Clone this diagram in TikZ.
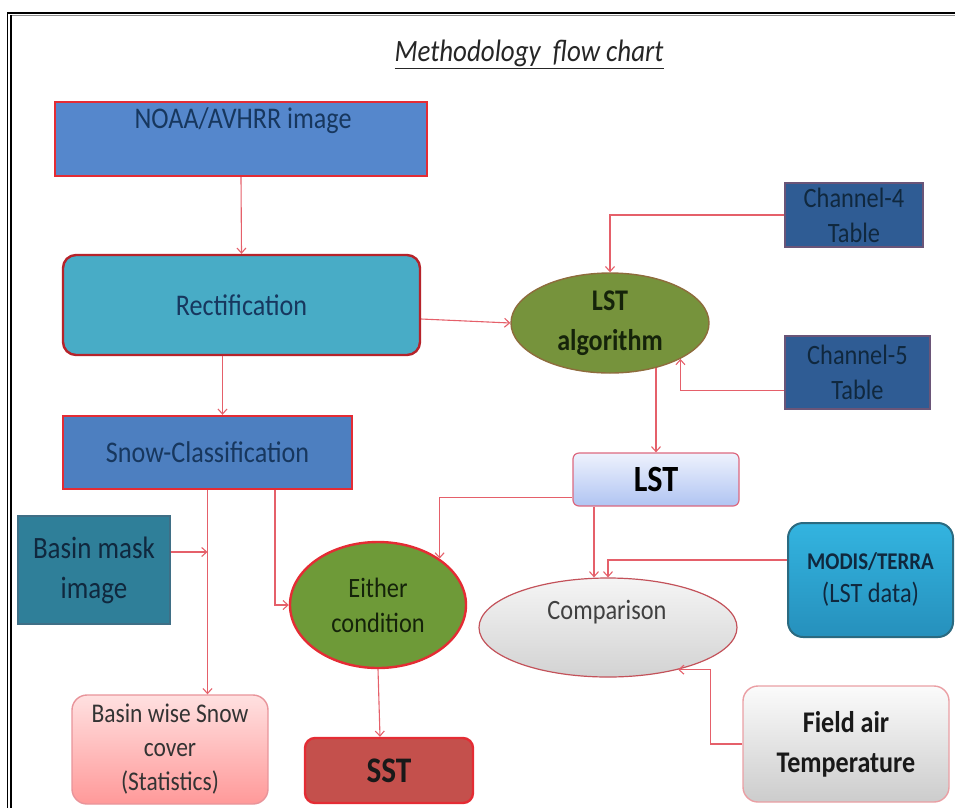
\documentclass[tikz,border=0pt]{standalone}
\usepackage{fontspec}
\setmainfont{Carlito}[FakeStretch=0.87]
\usetikzlibrary{arrows.meta,shapes.geometric,calc}
\newcommand\myfs[2]{\fontsize{#1}{#2}\selectfont}
\definecolor{arrc}{HTML}{E5606A}
\definecolor{navy}{HTML}{17375E}
\definecolor{noaac}{HTML}{5587CC}
\definecolor{snowc}{HTML}{4D7FC0}
\definecolor{rectc}{HTML}{48ACC6}
\definecolor{chc}{HTML}{2F5C94}
\definecolor{chb}{HTML}{6A5578}
\definecolor{olive}{HTML}{76933C}
\definecolor{oliveb}{HTML}{8E6C3C}
\definecolor{eithc}{HTML}{6E9A38}
\definecolor{maskc}{HTML}{2F7F99}
\definecolor{maskb}{HTML}{3F6F86}
\definecolor{redb}{HTML}{E42C34}
\definecolor{sstc}{HTML}{C4504C}
\definecolor{pinkb}{HTML}{E8949A}
\definecolor{modtop}{HTML}{33B4E0}
\definecolor{modbot}{HTML}{2690BC}
\definecolor{modb}{HTML}{2B6A80}
\definecolor{lsttop}{HTML}{EEF2FD}
\definecolor{lstbot}{HTML}{B0C4F2}
\definecolor{darkt}{HTML}{10283E}
\definecolor{greent}{HTML}{15230A}
\begin{document}
\begin{tikzpicture}[x=1pt,y=-1pt,
  arr/.style={draw=arrc, line width=1.1pt, -{Straight Barb[length=5pt,width=9pt]}},
  sqbox/.style={rectangle, inner sep=0pt},
  rbox/.style={rectangle, rounded corners=#1, inner sep=0pt},
  ell/.style={ellipse, inner sep=0pt},
  txt/.style={inner sep=0pt, align=center}]
\useasboundingbox (0,0) rectangle (955,807);
% frame
\draw[black, line width=2.6pt] (7,13) -- (960,13);
\draw[black!45, line width=1.2pt] (11,15.8) -- (960,15.8);
\draw[black, line width=1.3pt] (7.5,12) -- (7.5,810);
\draw[black, line width=1.3pt] (11,15) -- (11,810);
% title
\node[txt, font=\myfs{31}{33}\itshape, text=black!85] (title) at (529,54) {\underline{Methodology\ \ flow chart}};
% NOAA
\node[sqbox, fill=noaac, draw=redb, line width=2.4pt, minimum width=372pt, minimum height=74pt] (noaa) at (241,139) {};
\node[txt, font=\myfs{30}{32}, text=navy] (noaat) at (243,121) {NOAA/AVHRR image};
% Rectification
\node[rbox=13pt, fill=rectc, draw=redb!80!black, line width=2.4pt, minimum width=357pt, minimum height=100pt, font=\myfs{30}{32}, text=navy] (rect) at (241.5,305) {Rectification};
% Snow classification
\node[sqbox, fill=snowc, draw=redb, line width=2.4pt, minimum width=289pt, minimum height=73pt, font=\myfs{30}{32}, text=navy] (snow) at (207.5,452.5) {Snow-Classification};
% Channel tables
\node[sqbox, fill=chc, draw=chb, line width=1.4pt, minimum width=138pt, minimum height=64pt, font=\myfs{28}{35}, text=darkt, align=center] (ch4) at (854,215) {Channel-4\\Table};
\node[sqbox, fill=chc, draw=chb, line width=1.4pt, minimum width=145pt, minimum height=73pt, font=\myfs{28}{35}, text=darkt, align=center] (ch5) at (857.5,372.5) {Channel-5\\Table};
% LST algorithm
\node[ell, fill=olive, draw=oliveb, line width=1.4pt, minimum width=198pt, minimum height=100pt, font=\myfs{30}{40}\bfseries, text=greent, align=center] (lstalg) at (610,323) {LST\\algorithm};
% LST box
\node[rbox=6pt, top color=lsttop, bottom color=lstbot, draw=pinkb!70!purple, line width=1.2pt, minimum width=166pt, minimum height=53pt, font=\myfs{37}{38}\bfseries, text=black] (lst) at (656,479.5) {LST};
% Basin mask
\node[sqbox, fill=maskc, draw=maskb, line width=1.2pt, minimum width=152pt, minimum height=108pt, font=\myfs{31}{40}, text=darkt, align=center] (bmask) at (94,570) {Basin mask\\image};
% Either condition
\node[ell, fill=eithc, draw=redb, line width=2.4pt, minimum width=176pt, minimum height=126pt, font=\myfs{28}{35}, text=greent, align=center] (either) at (378,605) {Either\\condition};
% Basin wise
\node[rbox=15pt, top color=red!12!white, bottom color=red!40!white, draw=pinkb, line width=1.4pt, minimum width=196pt, minimum height=109pt, font=\myfs{27}{34}, text=black!80, align=center] (bws) at (170,749.5) {Basin wise Snow\\cover\\(Statistics)};
% SST
\node[rbox=10pt, fill=sstc, draw=redb, line width=2.4pt, minimum width=168pt, minimum height=65pt, font=\myfs{36}{38}\bfseries, text=black!90] (sst) at (389,770.5) {SST};
% Comparison
\node[ell, top color=gray!8, bottom color=gray!35, draw=arrc!85!black, line width=1.2pt, minimum width=258pt, minimum height=99pt] (comp) at (608,627.5) {};
\node[txt, font=\myfs{28}{30}, text=black!75] (compt) at (607,612) {Comparison};
% MODIS
\node[rbox=15pt, top color=modtop, bottom color=modbot, draw=modb, line width=2pt, minimum width=165pt, minimum height=114pt, text=darkt, align=center, font=\myfs{24}{33}] (modis) at (870.5,580) {\textbf{MODIS/TERRA}\\{\fontsize{28}{33}\selectfont (LST data)}};
% Field air
\node[rbox=15pt, top color=white!97!gray, bottom color=gray!40, draw=pinkb!90, line width=1.4pt, minimum width=206pt, minimum height=116pt, font=\myfs{30}{40}\bfseries, text=black!90, align=center] (field) at (846,744) {Field air\\Temperature};
% connectors
\draw[arr] (noaa.south) -- (rect.north);
\draw[arr] ([xshift=-19pt]rect.south) -- ([xshift=-19pt]rect.south |- snow.north);
\draw[arr] ([yshift=-14pt]rect.east) -- (lstalg.west);
\draw[arr] (ch4.west) -| (lstalg.north);
\draw[arr] ([yshift=-18pt]ch5.west) -| (lstalg.-27);
\draw[arr] (lstalg.-45 -| lst.north) -- (lst.north);
\draw[arr] ([yshift=-18pt]lst.west) -| (either.37);
\draw[arr] ([xshift=67.5pt]snow.south) |- (either.west);
\draw[arr] (snow.south) -- (snow.south |- bws.north);
\draw[arr] ([yshift=18pt]bmask.east) -- ([yshift=18pt]bmask.east -| snow.south);
\draw[arr] (either.south) -- ([xshift=-9pt]sst.north);
\draw[arr] ([xshift=-62pt]lst.south) -- ([xshift=-62pt]lst.south |- comp.north);
\draw[arr] ([yshift=20pt]modis.west) -| (comp.north);
\draw[arr] (field.west) -| ([xshift=32pt]comp.-31) -- (comp.-31);
\end{tikzpicture}
\end{document}
